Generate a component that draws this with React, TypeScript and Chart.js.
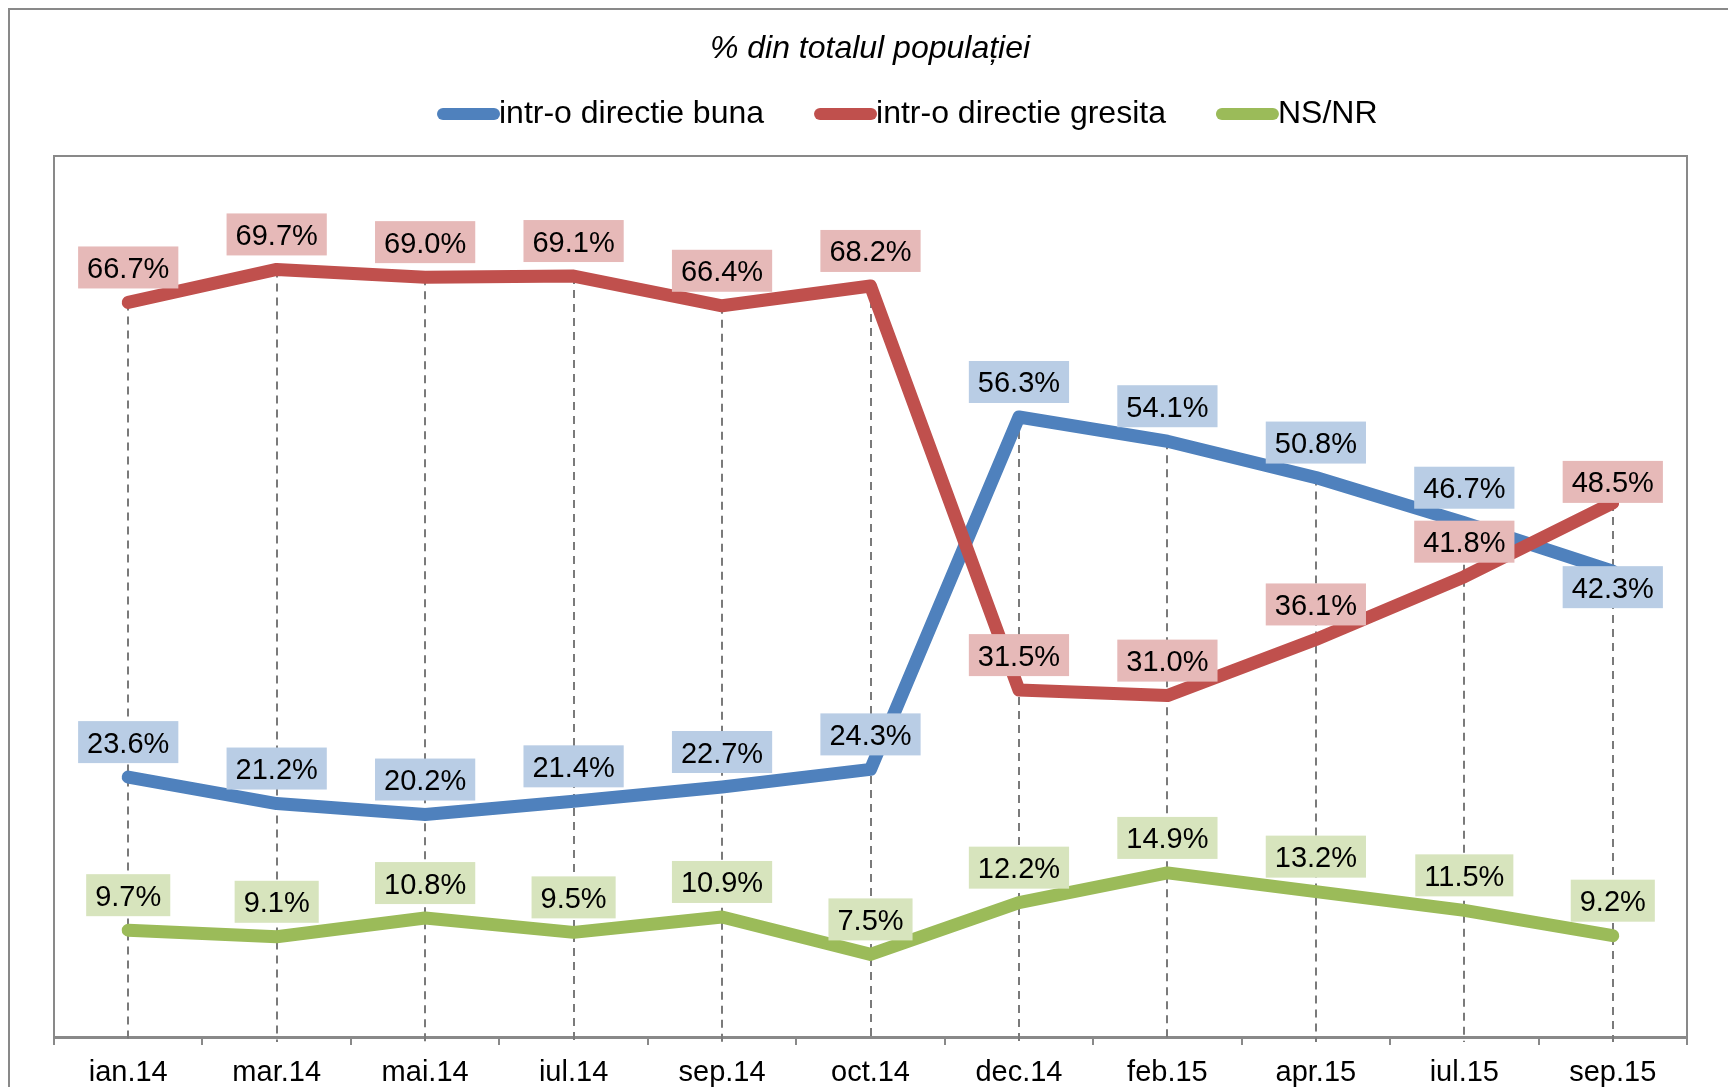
import React, { useEffect, useRef } from "react";
import { Chart, registerables } from "chart.js";

Chart.register(...registerables);

// ---- Data ----
const categories = ["ian.14", "mar.14", "mai.14", "iul.14", "sep.14", "oct.14", "dec.14", "feb.15", "apr.15", "iul.15", "sep.15"];
const seriesNames = ["intr-o directie buna", "intr-o directie gresita", "NS/NR"];
const buna = [23.6, 21.2, 20.2, 21.4, 22.7, 24.3, 56.3, 54.1, 50.8, 46.7, 42.3];
const gresita = [66.7, 69.7, 69.0, 69.1, 66.4, 68.2, 31.5, 31.0, 36.1, 41.8, 48.5];
const nsnr = [9.7, 9.1, 10.8, 9.5, 10.9, 7.5, 12.2, 14.9, 13.2, 11.5, 9.2];
const yMin = 0;
const yMax = 80;
const titleText = "% din totalul populației";

// ---- Styles ----
const FONT = "'Liberation Sans', Arial, Helvetica, sans-serif";
const lineColors = ["#4f81bd", "#c0504d", "#9bbb59"];
const boxColors = ["#b9cde5", "#e6b9b8", "#d7e4bd"];
const frameColor = "#898989";
// label placement exceptions: [datasetIndex, categoryIndex]
const labelsBelow: Array<[number, number]> = [[0, 10]];
const labelsCloseAbove: Array<[number, number]> = [[1, 10]];

const customPlugin = {
  id: "customDecor",
  beforeDatasetsDraw(chart: any) {
    const ctx = chart.ctx;
    const xs = chart.scales.x;
    const ys = chart.scales.y;
    ctx.save();
    ctx.strokeStyle = "#7a7a7a";
    ctx.lineWidth = 2;
    ctx.setLineDash([8, 6]);
    categories.forEach((_, i) => {
      const top = Math.max(...chart.data.datasets.map((d: any) => d.data[i]));
      const px = Math.round(xs.getPixelForValue(i));
      ctx.beginPath();
      ctx.moveTo(px, ys.getPixelForValue(top));
      ctx.lineTo(px, ys.getPixelForValue(yMin) + 5);
      ctx.stroke();
    });
    ctx.restore();
  },
  afterDatasetsDraw(chart: any) {
    const ctx = chart.ctx;
    const xs = chart.scales.x;
    const ys = chart.scales.y;
    ctx.save();
    ctx.font = `29px ${FONT}`;
    chart.data.datasets.forEach((ds: any, di: number) => {
      ds.data.forEach((v: number, i: number) => {
        const px = xs.getPixelForValue(i);
        const py = ys.getPixelForValue(v);
        const txt = v.toFixed(1) + "%";
        const w = ctx.measureText(txt).width + 18;
        const h = 42;
        const below = labelsBelow.some(([a, b]) => a === di && b === i);
        const close = labelsCloseAbove.some(([a, b]) => a === di && b === i);
        const cy = below ? py + 16 : close ? py - 21 : py - 35;
        ctx.fillStyle = boxColors[di];
        ctx.fillRect(px - w / 2, cy - h / 2, w, h);
        ctx.fillStyle = "#000";
        ctx.textAlign = "center";
        ctx.textBaseline = "alphabetic";
        ctx.fillText(txt, px, cy + 10.5);
      });
    });
    ctx.restore();
  },
  afterDraw(chart: any) {
    const ctx = chart.ctx;
    const { left, top, right, bottom } = chart.chartArea;
    ctx.save();
    // outer frame (left, top, right)
    ctx.strokeStyle = frameColor;
    ctx.lineWidth = 2;
    ctx.beginPath();
    ctx.moveTo(1, chart.height);
    ctx.lineTo(1, 1);
    ctx.lineTo(chart.width - 1, 1);
    ctx.lineTo(chart.width - 1, chart.height);
    ctx.stroke();
    // plot area border (left, top, right)
    ctx.beginPath();
    ctx.moveTo(left, bottom);
    ctx.lineTo(left, top);
    ctx.lineTo(right, top);
    ctx.lineTo(right, bottom);
    ctx.stroke();
    // title
    ctx.fillStyle = "#000";
    ctx.font = `italic 32px ${FONT}`;
    ctx.textAlign = "center";
    ctx.textBaseline = "alphabetic";
    ctx.fillText(titleText, chart.width / 2, 50);
    // legend
    ctx.font = `32px ${FONT}`;
    ctx.textAlign = "left";
    let lx = 429;
    const ly = 106;
    seriesNames.forEach((name, i) => {
      ctx.strokeStyle = lineColors[i];
      ctx.lineWidth = 12;
      ctx.lineCap = "round";
      ctx.beginPath();
      ctx.moveTo(lx + 6, ly);
      ctx.lineTo(lx + 57, ly);
      ctx.stroke();
      ctx.fillStyle = "#000";
      ctx.fillText(name, lx + 62, 115);
      lx += 62 + ctx.measureText(name).width + 50;
    });
    ctx.restore();
  },
};

export default function App() {
  const ref = useRef<HTMLCanvasElement | null>(null);
  useEffect(() => {
    document.documentElement.style.overflow = "hidden";
    const canvas = ref.current;
    if (!canvas) return;
    const series = [buna, gresita, nsnr];
    const orders = [1, 0, 2];
    const chart = new Chart(canvas, {
      type: "line",
      data: {
        labels: categories,
        datasets: series.map((d, i) => ({
          label: seriesNames[i],
          data: d,
          borderColor: lineColors[i],
          backgroundColor: lineColors[i],
          borderWidth: 13,
          borderCapStyle: "round",
          borderJoinStyle: "round",
          pointRadius: 0,
          pointHoverRadius: 0,
          tension: 0,
          fill: false,
          order: orders[i],
        })),
      },
      options: {
        responsive: false,
        animation: false,
        events: [],
        layout: { padding: { left: 46, right: 45, top: 148, bottom: 0 } },
        plugins: {
          legend: { display: false },
          title: { display: false },
          tooltip: { enabled: false },
        },
        scales: {
          x: {
            type: "category",
            offset: true,
            grid: {
              offset: true,
              drawOnChartArea: false,
              drawTicks: true,
              tickLength: 8,
              color: frameColor,
              lineWidth: 2,
            },
            border: { display: true, color: frameColor, width: 3 },
            ticks: {
              color: "#000",
              font: { size: 29, family: FONT },
              padding: 11,
              maxRotation: 0,
              autoSkip: false,
            },
            afterFit: (s: any) => {
              s.height = 50;
            },
          },
          y: { display: false, min: yMin, max: yMax },
        },
      },
      plugins: [customPlugin],
    } as any);
    return () => chart.destroy();
  }, []);
  return <canvas ref={ref} width={1724} height={1079} style={{ display: "block" }} />;
}
